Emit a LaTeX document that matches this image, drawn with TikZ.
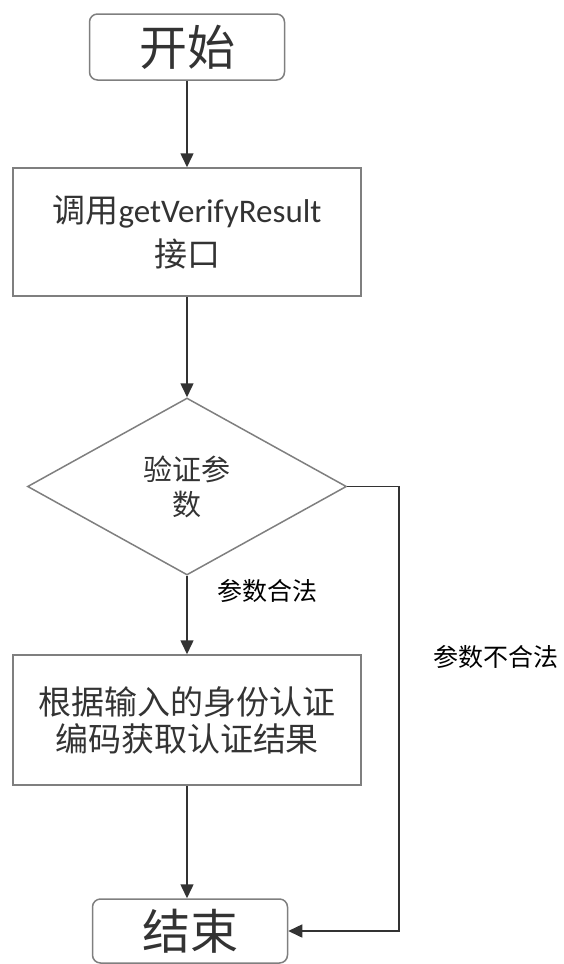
\documentclass[tikz,border=0pt]{standalone}
\usepackage{fontspec}
\setmainfont{Noto Sans CJK SC}
\newfontfamily\latinfont{Carlito}
\usetikzlibrary{shapes.geometric, arrows.meta}
\definecolor{edgegray}{HTML}{7F7F7F}
\definecolor{inkgray}{HTML}{333333}

\begin{document}
\begin{tikzpicture}[x=1pt, y=-1pt, >={Triangle[width=13pt, length=14pt]},
        terminal/.style={rectangle, rounded corners=8pt, draw=edgegray, line width=1.5pt, inner sep=0pt, text=inkgray, minimum width=195pt, minimum height=66pt, font=\fontsize{48}{52}\selectfont},
        process/.style={rectangle, draw=edgegray, line width=1.5pt, inner sep=0pt, text=inkgray, align=center, minimum width=348pt},
        decision/.style={diamond, aspect=1.8, draw=edgegray, line width=1.5pt, inner sep=0pt, text=inkgray, align=center, minimum width=319pt, minimum height=177pt, font=\fontsize{29}{35}\selectfont},
        branch/.style={text=black, font=\fontsize{25}{30}\selectfont},
        flow/.style={->, draw=black!80, line width=1.5pt}]

        \useasboundingbox (0,0) rectangle (563,964);

        \node[terminal] (start) at (187,47) {开始};
        \node[process, minimum height=128pt, font=\fontsize{33}{44}\selectfont] (call) at (187,232) {调用{\latinfont getVerifyResult}\\接口};
        \node[decision] (check) at (187,486.5) {验证参\\数};
        \node[process, minimum height=130pt, font=\fontsize{33}{37}\selectfont] (fetch) at (187,720) {根据输入的身份认证\\编码获取认证结果};
        \node[terminal, minimum height=64pt] (stop) at (190,931) {结束};

        \coordinate (rbend) at (399,700);

        \draw[flow] (start) -- (call);
        \draw[flow] (call) -- (check);
        \draw[flow] (check) -- (fetch) node[branch, pos=0.2, right=26pt] {参数合法};
        \draw[flow] (fetch.south) -- (fetch.south |- stop.north);
        \draw[flow] (check.east) -| (rbend) |- (stop.east);

        \node[branch] (illegal) at (496,657) {参数不合法};

\end{tikzpicture}
\end{document}
